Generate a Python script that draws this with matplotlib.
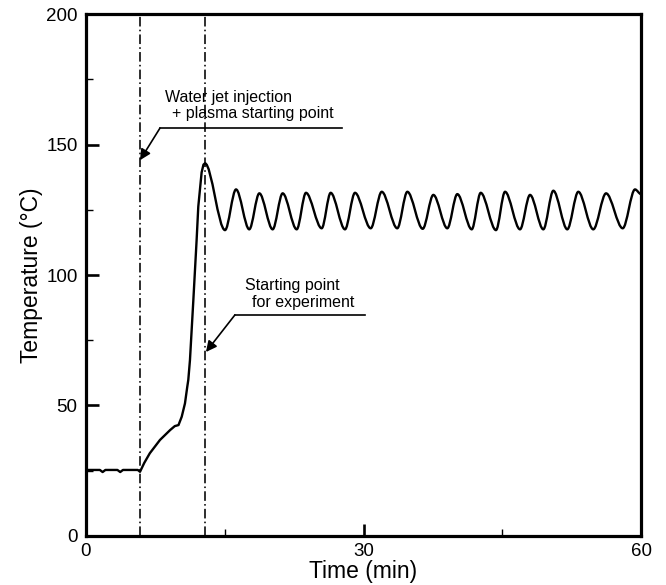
import matplotlib
matplotlib.use("Agg")
import matplotlib.pyplot as plt
from matplotlib.path import Path
from matplotlib.patches import PathPatch

plt.rcParams['font.family'] = ['Liberation Sans', 'DejaVu Sans']

# baseline + heating ramp (time in min, temperature in degC)
t_rise = [0.0, 1.5, 1.8, 2.1, 3.4, 3.7, 4.0, 5.6, 5.84, 6.3, 6.9, 8.0, 9.1,
          9.6, 10.0, 10.35, 10.7, 10.95, 11.06, 11.24, 11.6, 11.96, 12.14, 12.5, 12.7, 12.86]
y_rise = [25.3, 25.3, 24.5, 25.3, 25.3, 24.5, 25.3, 25.3, 24.6, 28.0, 31.7, 36.8, 40.6,
          42.1, 42.5, 45.7, 50.8, 57.2, 59.8, 67.4, 90.0, 113.4, 126.2, 139.3, 142.3, 142.8]

# turning points of the oscillation after the overshoot peak
t_osc = [12.86, 15.03, 16.22, 17.65, 18.74, 20.18, 21.26, 22.78, 23.78, 25.48, 26.45,
         28.0, 29.08, 30.78, 31.97, 33.65, 34.74, 36.4, 37.55, 39.06, 40.14, 41.7,
         42.67, 44.32, 45.3, 46.92, 48.0, 49.44, 50.52, 52.03, 53.22, 54.84, 56.22,
         58.02, 59.35, 60.0]
y_osc = [142.8, 117.2, 132.8, 117.5, 131.3, 117.5, 131.3, 117.5, 131.5, 117.9, 131.5,
         117.5, 131.5, 117.9, 131.9, 117.9, 131.9, 117.7, 130.7, 117.9, 131.0, 117.5,
         131.5, 117.2, 131.9, 117.5, 130.7, 117.5, 132.3, 117.5, 131.9, 117.5, 131.3,
         117.9, 132.8, 131.0]

t_marks = [5.84, 12.9]   # dash-dot event lines

fig = plt.figure(figsize=(6.66, 5.85), dpi=100)
ax = fig.add_axes([0.1291, 0.0838, 0.8334, 0.8922])

# temperature curve: straight segments for the ramp, smooth between turning points
verts = [(t_rise[0], y_rise[0])]
codes = [Path.MOVETO]
for t, y in zip(t_rise[1:], y_rise[1:]):
    verts.append((t, y))
    codes.append(Path.LINETO)
pts = list(zip(t_osc, y_osc))
for (t0, y0), (t1, y1) in zip(pts[:-1], pts[1:]):
    dt = (t1 - t0) / 3
    verts += [(t0 + dt, y0), (t1 - dt, y1), (t1, y1)]
    codes += [Path.CURVE4] * 3
ax.add_patch(PathPatch(Path(verts, codes), fill=False, lw=1.7, ec='black',
                       capstyle='round', joinstyle='round'))

for tm in t_marks:
    ax.axvline(tm, color='black', lw=1.15, dashes=(6, 2, 1, 2))

# annotations
ax.plot([8.0, 27.7], [156.3, 156.3], color='black', lw=1.2)
ax.annotate('', xy=(5.84, 144.0), xytext=(8.0, 156.3),
            arrowprops=dict(arrowstyle='-|>', color='black', lw=1.2,
                            mutation_scale=16, shrinkA=0, shrinkB=0))
ax.text(8.54, 166.4, 'Water jet injection', fontsize=11.5, va='baseline')
ax.text(9.26, 160.2, '+ plasma starting point', fontsize=11.5, va='baseline')

ax.plot([16.1, 30.2], [84.7, 84.7], color='black', lw=1.2)
ax.annotate('', xy=(12.97, 70.5), xytext=(16.1, 84.7),
            arrowprops=dict(arrowstyle='-|>', color='black', lw=1.2,
                            mutation_scale=16, shrinkA=0, shrinkB=0))
ax.text(17.19, 94.3, 'Starting point', fontsize=11.5, va='baseline')
ax.text(17.9, 87.9, 'for experiment', fontsize=11.5, va='baseline')

ax.set_xlim(0, 60)
ax.set_ylim(0, 200)
ax.set_xticks([0, 30, 60])
ax.set_xticks([15, 45], minor=True)
ax.set_yticks([0, 50, 100, 150, 200])
ax.set_yticks([25, 75, 125, 175], minor=True)
ax.tick_params(which='major', direction='in', length=9, width=1.9,
               labelsize=13.5, pad=5)
ax.tick_params(which='minor', direction='in', length=5, width=1.0)
ax.tick_params(axis='y', which='major', pad=6)
for sp in ax.spines.values():
    sp.set_linewidth(2.3)

ax.set_xlabel('Time (min)', fontsize=16.5, labelpad=0)
ax.set_ylabel('Temperature (°C)', fontsize=16.5, labelpad=2)

fig.savefig('out.png', dpi=100)
